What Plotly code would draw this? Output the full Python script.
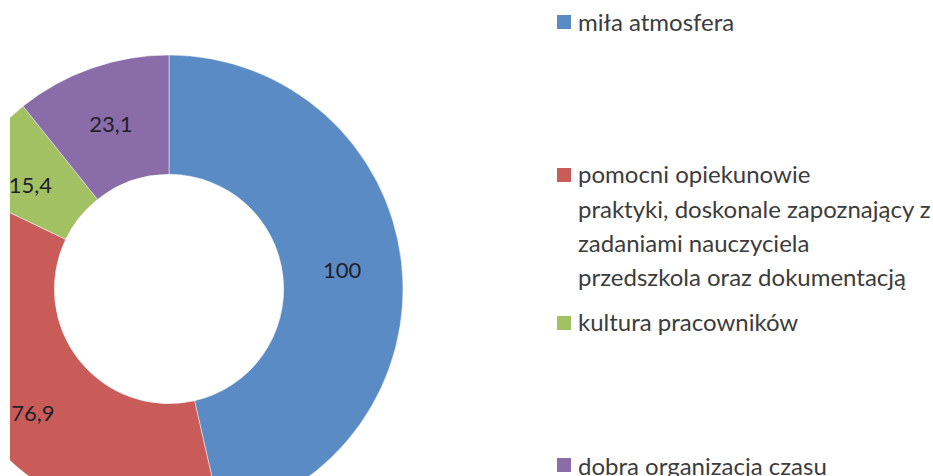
import plotly.graph_objects as go

# ---- data ----
categories = [
    "miła atmosfera",
    "pomocni opiekunowie praktyki, doskonale zapoznający z zadaniami nauczyciela przedszkola oraz dokumentacją",
    "kultura pracowników",
    "dobra organizacja czasu",
]
values = [100, 76.9, 15.4, 23.1]
legend_lines = [
    ["miła atmosfera"],
    ["pomocni opiekunowie", "praktyki, doskonale zapoznający z",
     "zadaniami nauczyciela", "przedszkola oraz dokumentacją"],
    ["kultura pracowników"],
    ["dobra organizacja czasu"],
]
colors = ["#5B8BC5", "#C95B58", "#A2C163", "#8A6CA8"]

# ---- layout constants (page pixels) ----
VIEW_W, VIEW_H = 933, 476
CX, CY, R = 169, 289, 234          # donut centre / radius on the page
SHIFT = R - CX                      # figure is shifted left by this much
W = VIEW_W + SHIFT
H = CY + R + 8
FONT = "Lato, 'Open Sans', sans-serif"

def px(x):
    return (x + SHIFT) / W

def py(y):
    return 1 - y / H

NB = "\u00a0"
# label templates (padding nudges two labels to where Excel puts them)
label_tpl = ["%{value}", NB + "<br>%{value}", NB + "<br>" + NB * 4 + "%{value}", "%{value}"]

fig = go.Figure(go.Pie(
    labels=categories,
    values=values,
    hole=0.49,
    sort=False,
    direction="clockwise",
    rotation=0,
    marker=dict(colors=colors, line=dict(color="rgba(255,255,255,0.6)", width=0.8)),
    texttemplate=label_tpl,
    textposition="inside",
    insidetextorientation="horizontal",
    textfont=dict(family=FONT, size=22, color="#1f1f2a"),
    domain=dict(x=[px(CX - R), px(CX + R)], y=[py(CY + R), py(CY - R)]),
    showlegend=False,
    hoverinfo="label+value",
))

# legend drawn as squares + text
legend_y = [[22], [173, 208, 242, 276], [321], [465]]
square_y = [22, 175, 323, 465]
annotations = []
shapes = []
for i, lines in enumerate(legend_lines):
    sy = square_y[i]
    shapes.append(dict(type="rect", xref="paper", yref="paper",
                       x0=px(557), x1=px(571), y0=py(sy + 7), y1=py(sy - 7),
                       fillcolor=colors[i], line=dict(width=0)))
    for line, ly in zip(lines, legend_y[i]):
        annotations.append(dict(text=line, xref="paper", yref="paper",
                                x=px(576), y=py(ly), xanchor="left", yanchor="middle",
                                showarrow=False,
                                font=dict(family=FONT, size=24, color="#3c3c3c")))

# white strip at the left edge of the picture
shapes.append(dict(type="rect", xref="paper", yref="paper", layer="above",
                   x0=0, x1=px(10), y0=0, y1=1,
                   fillcolor="white", line=dict(width=0)))

fig.update_layout(
    width=W, height=H,
    margin=dict(l=0, r=0, t=0, b=0),
    paper_bgcolor="white",
    plot_bgcolor="white",
    separators=", ",
    uniformtext=dict(minsize=22, mode="show"),
    annotations=annotations,
    shapes=shapes,
    font=dict(family=FONT),
)

post = (
    "document.body.style.margin='0';"
    "document.body.style.overflow='hidden';"
    "var gd=document.getElementById('{plot_id}');"
    "gd.style.position='absolute';"
    "gd.style.left='-%dpx';"
    "gd.style.top='0px';" % SHIFT
)

fig.write_html("out.html", post_script=post, config={"displayModeBar": False})
